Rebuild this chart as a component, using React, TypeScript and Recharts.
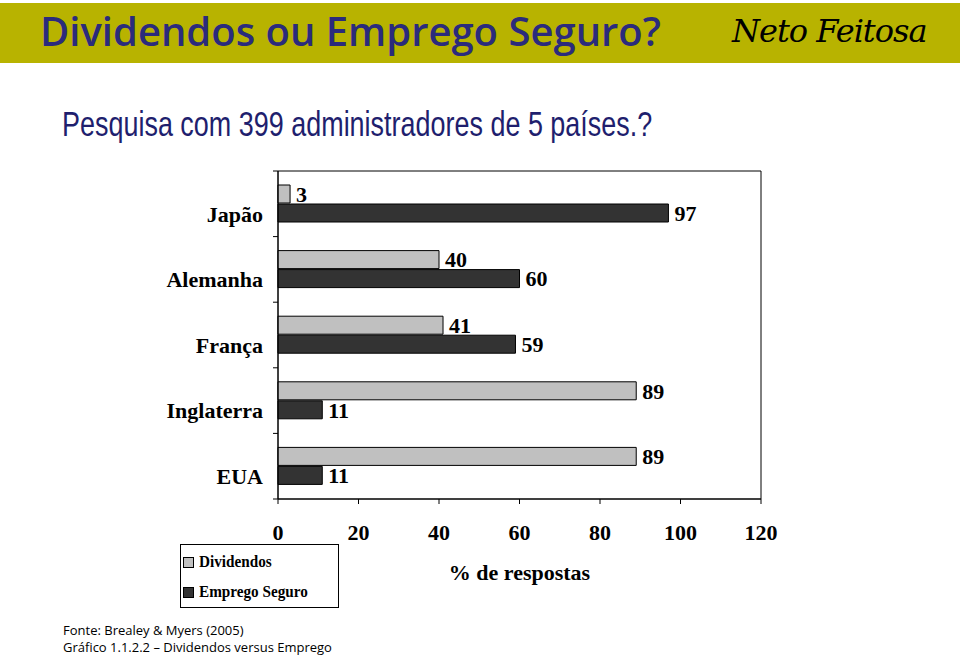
import React from 'react';
import { BarChart, Bar, XAxis, YAxis, LabelList, ReferenceArea } from 'recharts';

const categories = ['Japão', 'Alemanha', 'França', 'Inglaterra', 'EUA'];
const dividendos = [3, 40, 41, 89, 89];
const emprego = [97, 60, 59, 11, 11];
const xTicks = [0, 20, 40, 60, 80, 100, 120];
const seriesNames = ['Dividendos', 'Emprego Seguro'];
const seriesColors = ['#c0c0c0', '#333333'];

const data = categories.map((pais, i) => ({ pais, dividendos: dividendos[i], emprego: emprego[i] }));

const SERIF = '"Liberation Serif", "Times New Roman", serif';

const CatTick = (props: any) => {
  const { x, y, payload, index, visibleTicksCount } = props;
  const half = payload && payload.offset ? payload.offset : 32.8;
  const axisX = x + 15;
  return (
    <g>
      <line x1={axisX - 5} x2={axisX} y1={y - half} y2={y - half} stroke="#000" />
      {index === visibleTicksCount - 1 ? (
        <line x1={axisX - 5} x2={axisX} y1={y + half} y2={y + half} stroke="#000" />
      ) : null}
      <text x={x} y={y + 10} dy="0.35em" textAnchor="end" fill="#000" fontSize={22} fontWeight="bold" fontFamily={SERIF}>
        {payload.value}
      </text>
    </g>
  );
};

export default function App() {
  return (
    <div style={{ position: 'absolute', left: 0, top: 0, width: 960, height: 656, overflow: 'hidden', background: '#fff' }}>
      <div style={{ position: 'absolute', left: 0, top: 3, width: 960, height: 60, background: '#b8b300' }} />
      <div style={{ position: 'absolute', left: 40, top: 6, fontFamily: '"Open Sans", sans-serif', fontWeight: 600, fontSize: 40, color: '#2b2b7c', whiteSpace: 'nowrap', lineHeight: '50px' }}>
        Dividendos ou Emprego Seguro?
      </div>
      <div style={{ position: 'absolute', left: 732, top: 8, fontFamily: '"DejaVu Serif", serif', fontStyle: 'italic', fontSize: 32, color: '#000', whiteSpace: 'nowrap', lineHeight: '46px', letterSpacing: -1 }}>
        Neto Feitosa
      </div>
      <div style={{ position: 'absolute', left: 62, top: 102, fontFamily: '"Liberation Sans", Arial, sans-serif', fontSize: 35, color: '#1f1f6e', whiteSpace: 'nowrap', lineHeight: '44px', transform: 'scaleX(0.77)', transformOrigin: 'left center' }}>
        Pesquisa com 399 administradores de 5 países.?
      </div>
      <div style={{ position: 'absolute', left: 0, top: 0 }}>
        <BarChart
          width={960}
          height={656}
          data={data}
          layout="vertical"
          margin={{ top: 171, right: 199, bottom: 67, left: 0 }}
          barSize={18}
          barGap={1}
        >
          <ReferenceArea x1={0} x2={120} fill="none" stroke="#000" strokeWidth={1} ifOverflow="visible" />
          <XAxis
            type="number"
            domain={[0, 120]}
            ticks={xTicks}
            interval={0}
            height={90}
            axisLine={{ stroke: '#000' }}
            tickLine={{ stroke: '#000' }}
            tickSize={5}
            tickMargin={20}
            tick={{ fill: '#000', fontSize: 22, fontWeight: 'bold', fontFamily: SERIF }}
            label={{ value: '% de respostas', position: 'insideBottom', offset: 9, fill: '#000', fontSize: 22, fontWeight: 'bold', fontFamily: SERIF }}
          />
          <YAxis
            type="category"
            dataKey="pais"
            width={278}
            interval={0}
            axisLine={{ stroke: '#000' }}
            tickLine={false}
            tickSize={5}
            tickMargin={10}
            tick={<CatTick />}
          />
          <Bar dataKey="dividendos" name={seriesNames[0]} fill={seriesColors[0]} stroke="#000" strokeWidth={1} isAnimationActive={false}>
            <LabelList dataKey="dividendos" position="right" offset={6} fill="#000" fontSize={22} fontWeight="bold" fontFamily={SERIF} />
          </Bar>
          <Bar dataKey="emprego" name={seriesNames[1]} fill={seriesColors[1]} stroke="#000" strokeWidth={1} isAnimationActive={false}>
            <LabelList dataKey="emprego" position="right" offset={6} fill="#000" fontSize={22} fontWeight="bold" fontFamily={SERIF} />
          </Bar>
        </BarChart>
      </div>
      <div style={{ position: 'absolute', left: 180, top: 544, width: 159, height: 64, border: '1px solid #000', background: '#fff', boxSizing: 'border-box' }}>
        {seriesNames.map((name, i) => (
          <div key={name} style={{ position: 'absolute', left: 2, top: 8 + i * 30, height: 18, display: 'flex', alignItems: 'center' }}>
            <span style={{ display: 'inline-block', width: 9, height: 9, border: '1px solid #000', background: seriesColors[i], marginRight: 5 }} />
            <span style={{ fontFamily: SERIF, fontWeight: 'bold', fontSize: 16, color: '#000', display: 'inline-block', transform: 'scaleX(0.95)', transformOrigin: 'left center' }}>{name}</span>
          </div>
        ))}
      </div>
      <div style={{ position: 'absolute', left: 63, top: 622, fontFamily: '"Open Sans", sans-serif', fontSize: 13, color: '#000', whiteSpace: 'nowrap', lineHeight: '17px' }}>
        <div>Fonte: Brealey &amp; Myers (2005)</div>
        <div>Gráfico 1.1.2.2 – Dividendos versus Emprego</div>
      </div>
    </div>
  );
}
